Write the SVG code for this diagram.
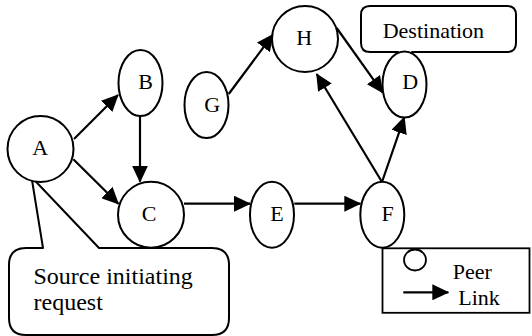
<svg xmlns="http://www.w3.org/2000/svg" width="532" height="336" viewBox="0 0 532 336">
  <style>
    .node { fill: #fff; stroke: #000; stroke-width: 2; }
    .callout { fill: #fff; stroke: #000; stroke-width: 2; stroke-linejoin: round; }
    .link { stroke: #000; stroke-width: 2.2; fill: none; marker-end: url(#arrow); }
    text { font-family: 'Liberation Serif', 'Times New Roman', Times, Tinos, 'Nimbus Roman', 'Noto Serif', 'DejaVu Serif', FreeSerif, serif; font-size: 22px; fill: #000; }
    .mid { text-anchor: middle; }
    .big { font-size: 24px; }
  </style>
  <defs>
    <marker id="arrow" markerUnits="userSpaceOnUse" markerWidth="17" markerHeight="16" viewBox="0 0 17 16" refX="16" refY="8" orient="auto">
      <path d="M0,0 L17,8 L0,16 z" fill="#000"/>
    </marker>
  </defs>

  <rect width="532" height="336" fill="#fff"/>

  <!-- callouts sit behind the nodes they point at -->
  <g id="callout-source">
    <path class="callout" d="M26,248 L43,248 L31.5,177 L99,248 L212,248 Q229,248 229,265 L229,318 Q229,335 212,335 L26,335 Q9,335 9,318 L9,265 Q9,248 26,248 Z"/>
    <text class="big" x="33.5" y="283.5">Source initiating</text>
    <text class="big" x="33.5" y="310">request</text>
  </g>
  <g id="callout-destination">
    <path class="callout" d="M370,6 L507,6 Q516,6 516,15 L516,43 Q516,52 507,52 L412,52 L405,66 L398,52 L370,52 Q361,52 361,43 L361,15 Q361,6 370,6 Z"/>
    <text x="382.7" y="38">Destination</text>
  </g>

  <!-- peer links -->
  <g id="connectors">
    <line class="link" x1="74" y1="139" x2="118" y2="95"/>
    <line class="link" x1="73.3" y1="159.3" x2="118.3" y2="203.7"/>
    <line class="link" x1="140" y1="116" x2="140" y2="181.7"/>
    <line class="link" x1="184" y1="203.7" x2="250" y2="203.7"/>
    <line class="link" x1="294.3" y1="203.7" x2="360.3" y2="203.7"/>
    <line class="link" x1="228.7" y1="94" x2="273" y2="34.5"/>
    <line class="link" x1="336.7" y1="28" x2="382.7" y2="92.7"/>
    <line class="link" x1="382" y1="182" x2="316.7" y2="74"/>
    <line class="link" x1="382" y1="182" x2="404.3" y2="117.3"/>
  </g>

  <!-- peers -->
  <g id="node-A">
    <circle class="node" cx="40.5" cy="149" r="33"/>
    <text class="mid" x="40.3" y="155">A</text>
  </g>
  <g id="node-B">
    <ellipse class="node" cx="140.5" cy="83" rx="22" ry="33"/>
    <text class="mid" x="145.5" y="89.3">B</text>
  </g>
  <g id="node-C">
    <circle class="node" cx="151" cy="214.7" r="33"/>
    <text class="mid" x="149.2" y="220.7">C</text>
  </g>
  <g id="node-E">
    <ellipse class="node" cx="272" cy="214.7" rx="22" ry="33"/>
    <text class="mid" x="277" y="221.3">E</text>
  </g>
  <g id="node-F">
    <ellipse class="node" cx="382.3" cy="214.7" rx="22" ry="33"/>
    <text class="mid" x="387.7" y="221.3">F</text>
  </g>
  <g id="node-G">
    <ellipse class="node" cx="206.5" cy="105" rx="22" ry="33"/>
    <text class="mid" x="212.3" y="111.7">G</text>
  </g>
  <g id="node-H">
    <circle class="node" cx="305" cy="39" r="33"/>
    <text class="mid" x="304.3" y="45">H</text>
  </g>
  <g id="node-D">
    <ellipse class="node" cx="404.5" cy="84.5" rx="22" ry="33"/>
    <text class="mid" x="410.2" y="89.3">D</text>
  </g>

  <!-- key -->
  <g id="legend">
    <rect x="382.5" y="248.3" width="147" height="64.5" fill="#fff" stroke="#000" stroke-width="1.8"/>
    <ellipse cx="415" cy="260" rx="11" ry="10.5" fill="#fff" stroke="#000" stroke-width="1.8"/>
    <text x="452.7" y="279.3">Peer</text>
    <line class="link" x1="403.3" y1="292.3" x2="448.3" y2="292.3"/>
    <text x="458.3" y="305">Link</text>
  </g>
</svg>
